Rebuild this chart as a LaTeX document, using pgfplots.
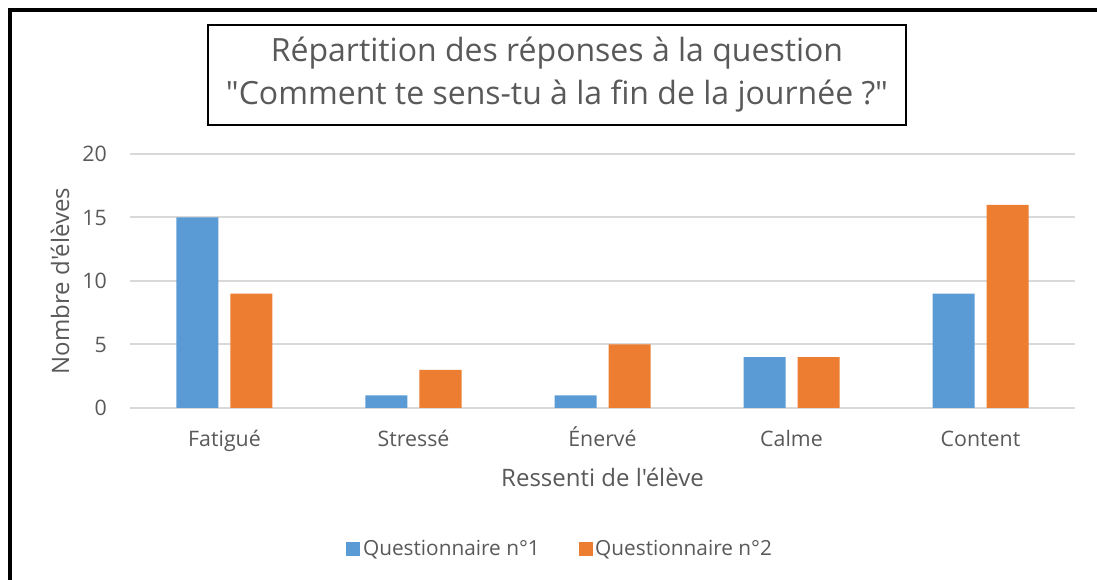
\documentclass[border=0pt]{standalone}
\usepackage{pgfplots}
\pgfplotsset{compat=1.18}
\usepackage{fontspec}
\setmainfont{Open Sans}[Ligatures=TeXOff]
\definecolor{qblue}{HTML}{5B9BD5}
\definecolor{qorange}{HTML}{ED7D31}
\definecolor{txt}{HTML}{595959}
\definecolor{grid}{HTML}{D9D9D9}
\begin{document}
\begin{tikzpicture}[x=0.75pt,y=0.75pt]
\useasboundingbox (-130,-172) rectangle (967,408);
\begin{axis}[
  at={(0,0)}, anchor=south west,
  scale only axis, width=708.75pt, height=190.5pt,
  ybar, bar width=31.5pt,
  xmin=-0.5, xmax=4.5, ymin=0, ymax=20,
  xtick={0,1,2,3,4},
  xticklabels={Fatigué,Stressé,Énervé,Calme,Content},
  ytick={0,5,10,15,20},
  ymajorgrids, major grid style={color=grid, line width=1.5pt},
  axis line style={draw=none}, major tick length=0pt,
  /pgf/number format/assume math mode=true,
  tick label style={font=\fontsize{16}{19}\selectfont, text=txt, inner sep=0pt},
  yticklabel style={anchor=east, xshift=-17.25pt},
  xticklabel style={anchor=base, yshift=-29.25pt},
  xlabel={Ressenti de l'élève},
  ylabel={Nombre d'élèves},
  label style={font=\fontsize{18}{21}\selectfont, text=txt, inner sep=0pt},
  xlabel style={at={(axis description cs:0.5,0)}, anchor=base, yshift=-59.25pt},
  ylabel style={at={(axis description cs:-0.0741,0.5)}, anchor=center},
  legend style={at={(axis description cs:0.4556,-0.555)}, anchor=center,
    draw=none, font=\fontsize{15.6}{18}\selectfont, text=txt,
    legend columns=2, /tikz/every even column/.append style={column sep=27pt}},
  legend image code/.code={\fill[#1] (0pt,-5.25pt) rectangle (10.5pt,5.25pt);},
  clip=false,
]
\addplot[fill=qblue, draw=none, bar shift=-20.25pt] coordinates {(0,15) (1,1) (2,1) (3,4) (4,9)};
\addplot[fill=qorange, draw=none, bar shift=20.25pt] coordinates {(0,9) (1,3) (2,5) (3,4) (4,16)};
\legend{Questionnaire n°1, Questionnaire n°2}
\end{axis}
\draw[line width=3pt] (-119.5,-172) -- (-119.5,397.5) -- (967,397.5);
\node[draw=black, line width=1.5pt, minimum width=523.5pt, minimum height=75pt, align=center,
  font=\fontsize{24}{32.25}\selectfont, text=txt, inner sep=0pt] at (427,333)
  {Répartition des réponses à la question\\"Comment te sens-tu à la fin de la journée ?"};
\end{tikzpicture}
\end{document}
